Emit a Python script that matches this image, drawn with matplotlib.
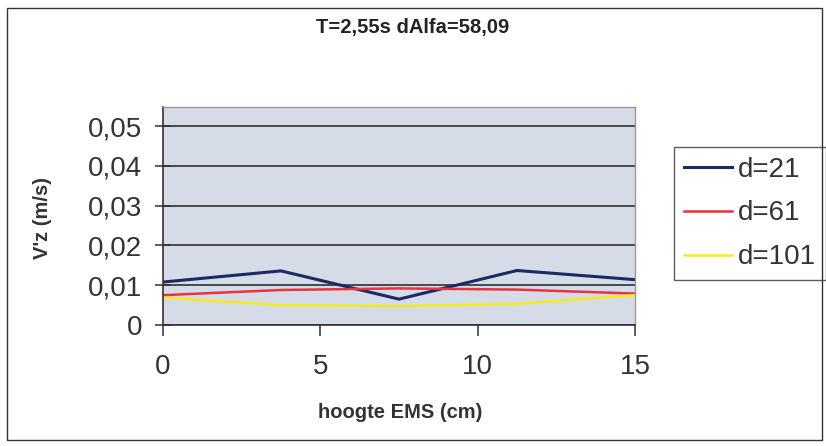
import matplotlib
matplotlib.use("Agg")
import matplotlib.pyplot as plt
from matplotlib.patches import Rectangle
from matplotlib.ticker import FuncFormatter

# data
hoogte = [0, 3.75, 7.5, 11.25, 15]
d21 = [0.0108, 0.0136, 0.0065, 0.0137, 0.0114]
d61 = [0.0075, 0.0088, 0.0092, 0.0089, 0.0079]
d101 = [0.0069, 0.0050, 0.0048, 0.0053, 0.0075]
labels = ["d=21", "d=61", "d=101"]
y_ticks = [0, 0.01, 0.02, 0.03, 0.04, 0.05]
x_ticks = [0, 5, 10, 15]

plt.rcParams["font.family"] = ["Liberation Sans", "DejaVu Sans"]

W, H = 826, 446
fig = plt.figure(figsize=(W / 100, H / 100), dpi=100)
fig.patch.set_facecolor("white")

# outer chart frame
fig.patches.append(Rectangle((7 / W, 1 - 440 / H), 815 / W, 432 / H,
                             transform=fig.transFigure, fill=False,
                             edgecolor="#333333", linewidth=1.0))

ax = fig.add_axes([163 / W, 1 - 325 / H, (635 - 163) / W, (325 - 107) / H])
ax.set_facecolor("#d6dbe8")

ax.plot(hoogte, d21, color="#1c2a63", linewidth=2.2, label=labels[0])
ax.plot(hoogte, d61, color="#e83340", linewidth=1.8, label=labels[1])
ax.plot(hoogte, d101, color="#f2ee1e", linewidth=1.8, label=labels[2])

ax.set_xlim(0, 15)
ax.set_ylim(0, 0.0548)
ax.set_xticks(x_ticks)
ax.set_yticks(y_ticks)
ax.yaxis.set_major_formatter(FuncFormatter(
    lambda v, p: "0" if v == 0 else f"{v:.2f}".replace(".", ",")))
ax.grid(axis="y", color="#222222", linewidth=1.1)
ax.set_axisbelow(True)

for s in ["top", "right"]:
    ax.spines[s].set_color("#9a9a9a")
    ax.spines[s].set_linewidth(1.0)
for s in ["left", "bottom"]:
    ax.spines[s].set_color("#333333")
    ax.spines[s].set_linewidth(1.2)

ax.tick_params(axis="x", direction="out", length=8, width=1.1,
               color="#333333", labelsize=20, labelcolor="#333333", pad=13)
ax.tick_params(axis="y", direction="inout", length=12, width=1.1,
               color="#333333", labelsize=20, labelcolor="#333333", pad=9)

ax.set_xlabel("hoogte EMS (cm)", fontsize=14.5, fontweight="bold",
              color="#333333")
ax.xaxis.set_label_coords(400 / W, 1 - 403 / H, transform=fig.transFigure)
ax.set_ylabel("V'z (m/s)", fontsize=14.5, fontweight="bold",
              color="#333333")
ax.yaxis.set_label_coords(52 / W, 1 - 218 / H, transform=fig.transFigure)

fig.text(0.5, 1 - 28 / H, "T=2,55s dAlfa=58,09", ha="center", va="center",
         fontsize=14.5, fontweight="bold", color="#222222")

leg = ax.legend(loc="upper left", bbox_to_anchor=(674 / W, 1 - 147 / H),
                bbox_transform=fig.transFigure, borderaxespad=0,
                fontsize=20, frameon=True, fancybox=False,
                handlelength=1.75, handletextpad=0.2, labelspacing=0.64,
                borderpad=0.35, labelcolor="#333333")
leg.get_frame().set_edgecolor("#333333")
leg.get_frame().set_linewidth(1.0)

fig.savefig("out.png", dpi=100)
